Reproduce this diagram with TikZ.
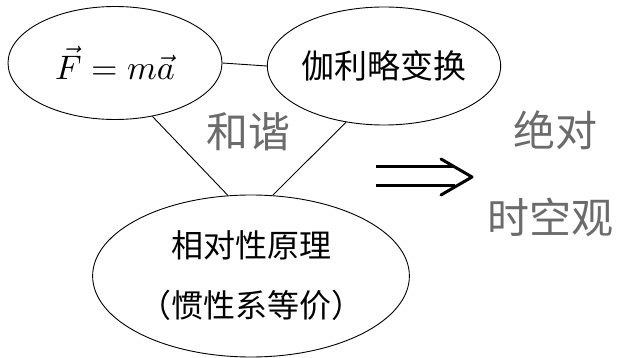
\documentclass[tikz,border=0pt]{standalone}
\usepackage{fontspec}
\usepackage{graphicx}
\newfontfamily\cjk{Noto Sans CJK SC}
\usetikzlibrary{shapes.geometric}
\definecolor{softgray}{rgb}{0.42,0.42,0.42}
\tikzset{
  oval/.style={draw=black, line width=0.9pt, ellipse, inner sep=0pt},
  link/.style={draw=black, line width=0.9pt},
  bigtxt/.style={text=softgray, inner sep=0pt, font=\cjk\fontsize{42}{48}\selectfont},
}
\begin{document}
\begin{tikzpicture}[x=1pt, y=-1pt]
\useasboundingbox[fill=white] (0,0) rectangle (618,358);
\node[oval, minimum width=214pt, minimum height=113pt] (e1) at (115,63)
  {\raisebox{-4pt}{\scalebox{3.4}{$\vec{F}=m\vec{a}$}}};
\node[oval, minimum width=205pt, minimum height=118pt, font=\cjk\fontsize{33}{36}\selectfont] (e2) at (384,66)
  {伽利略变换};
\node[oval, minimum width=284pt, minimum height=162pt, align=center,
      font=\cjk\fontsize{32}{60}\selectfont] (e3) at (251,276)
  {相对性原理\\（惯性系等价）};
\draw[link] (e1.east) -- (e2.west);
\draw[link] (e1.-55) -- (e3.106);
\draw[link] (e2.-124) -- (e3.75);
\node[bigtxt] (he) at (248,132) {和谐};
\node[bigtxt] (t1) at (555,130) {绝对};
\node[bigtxt] (t2) at (550,217) {时空观};
\coordinate (a1) at (376,167);
\coordinate (a2) at (376,186);
\coordinate (b1) at (455,167);
\coordinate (b2) at (455,186);
\draw[line width=3pt] (a1) -- (b1);
\draw[line width=3pt] (a2) -- (b2);
\draw[line width=3pt, line cap=round, line join=round] (441,159) .. controls (456,168) .. (472,177) .. controls (456,186) .. (441,195);
\end{tikzpicture}
\end{document}
